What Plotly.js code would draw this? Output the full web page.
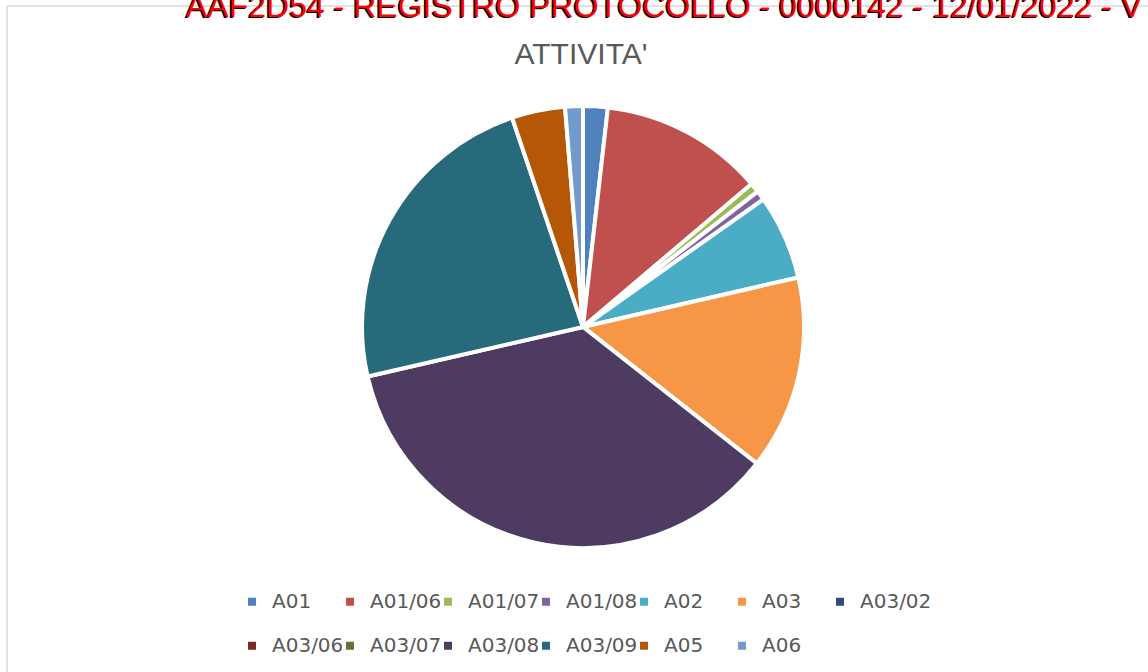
<!DOCTYPE html>
<html>
<head>
<meta charset="utf-8">
<script src="https://cdn.plot.ly/plotly-3.0.1.min.js"></script>
<style>
  html, body { margin: 0; padding: 0; background: #ffffff; }
  #chart { width: 1148px; height: 672px; }
</style>
</head>
<body>
<div id="chart"></div>
<script>
// ---- data (percentages) ----
var labels = ['A01', 'A01/06', 'A01/07', 'A01/08', 'A02', 'A03', 'A03/02',
              'A03/06', 'A03/07', 'A03/08', 'A03/09', 'A05', 'A06'];
var values = [1.8, 12.0, 0.7, 0.7, 6.2, 14.2, 0, 0, 0, 35.8, 23.4, 3.9, 1.3];
var colors = ['#4F81BD', '#C0504D', '#9BBB59', '#8064A2', '#4BACC6', '#F79646', '#2C4D75',
              '#772C2A', '#5F7530', '#4D3B62', '#276A7C', '#B65708', '#729ACA'];
var chartTitle = "ATTIVITA'";
var stampText = 'AAF2D54 - REGISTRO PROTOCOLLO - 0000142 - 12/01/2022 - V';

// ---- layout helpers (pixel -> paper) ----
var W = 1148, H = 672;
var M = {l: 230, r: 220, t: 0, b: 0};
var PW = W - M.l - M.r, PH = H - M.t - M.b;
function px2x(px) { return (px - M.l) / PW; }
function py2y(py) { return (H - M.b - py) / PH; }

var cx = 583, cy = 327, R = 221;

var legendLabels = labels.map(function (l) {
  return '<span style="font-size:20px">' + l + '</span><br> ';
});

var trace = {
  type: 'pie',
  labels: legendLabels,
  values: values,
  sort: false,
  direction: 'clockwise',
  rotation: 0,
  textinfo: 'none',
  hoverinfo: 'none',
  marker: {colors: colors, line: {color: '#ffffff', width: 4}},
  domain: {x: [px2x(cx - R), px2x(cx + R)], y: [py2y(cy + R), py2y(cy - R)]}
};

var layout = {
  width: W, height: H,
  margin: {l: M.l, r: M.r, t: M.t, b: M.b, autoexpand: false},
  paper_bgcolor: '#ffffff',
  plot_bgcolor: '#ffffff',
  title: {
    text: chartTitle,
    font: {family: 'Liberation Sans, Arial, sans-serif', size: 30, color: '#595959'},
    xref: 'container', yref: 'container',
    x: 581 / W, xanchor: 'center',
    y: 1 - 53.3 / H, yanchor: 'middle'
  },
  showlegend: true,
  legend: {
    orientation: 'h',
    x: px2x(232), xanchor: 'left',
    y: py2y(584.9), yanchor: 'top',
    entrywidth: 53, entrywidthmode: 'pixels',
    valign: 'top',
    traceorder: 'normal',
    font: {family: 'DejaVu Sans, sans-serif', size: 15.77, color: '#595959'},
    bgcolor: 'rgba(0,0,0,0)'
  },
  shapes: [
    {type: 'line', xref: 'paper', yref: 'paper',
     x0: px2x(7), x1: px2x(W + 20), y0: py2y(6), y1: py2y(6),
     line: {color: '#d9d9d9', width: 1.5}},
    {type: 'line', xref: 'paper', yref: 'paper',
     x0: px2x(7), x1: px2x(7), y0: py2y(6), y1: py2y(H + 20),
     line: {color: '#d9d9d9', width: 1.5}}
  ],
  annotations: [
    {text: stampText, showarrow: false,
     xref: 'paper', yref: 'paper',
     x: px2x(184), xanchor: 'left',
     y: py2y(5.5), yanchor: 'middle',
     font: {family: 'Liberation Sans, Arial, sans-serif',
            size: 32, color: '#ff0000', shadow: '-1.5px 1px 0px #000000'}}
  ]
};

Plotly.newPlot('chart', [trace], layout, {displayModeBar: false, staticPlot: true}).then(function () {
  // let the last legend entry of a row show its full label
  var boxes = document.querySelectorAll('#chart .legend .scrollbox');
  boxes.forEach(function (b) { b.removeAttribute('clip-path'); });
});
</script>
</body>
</html>
